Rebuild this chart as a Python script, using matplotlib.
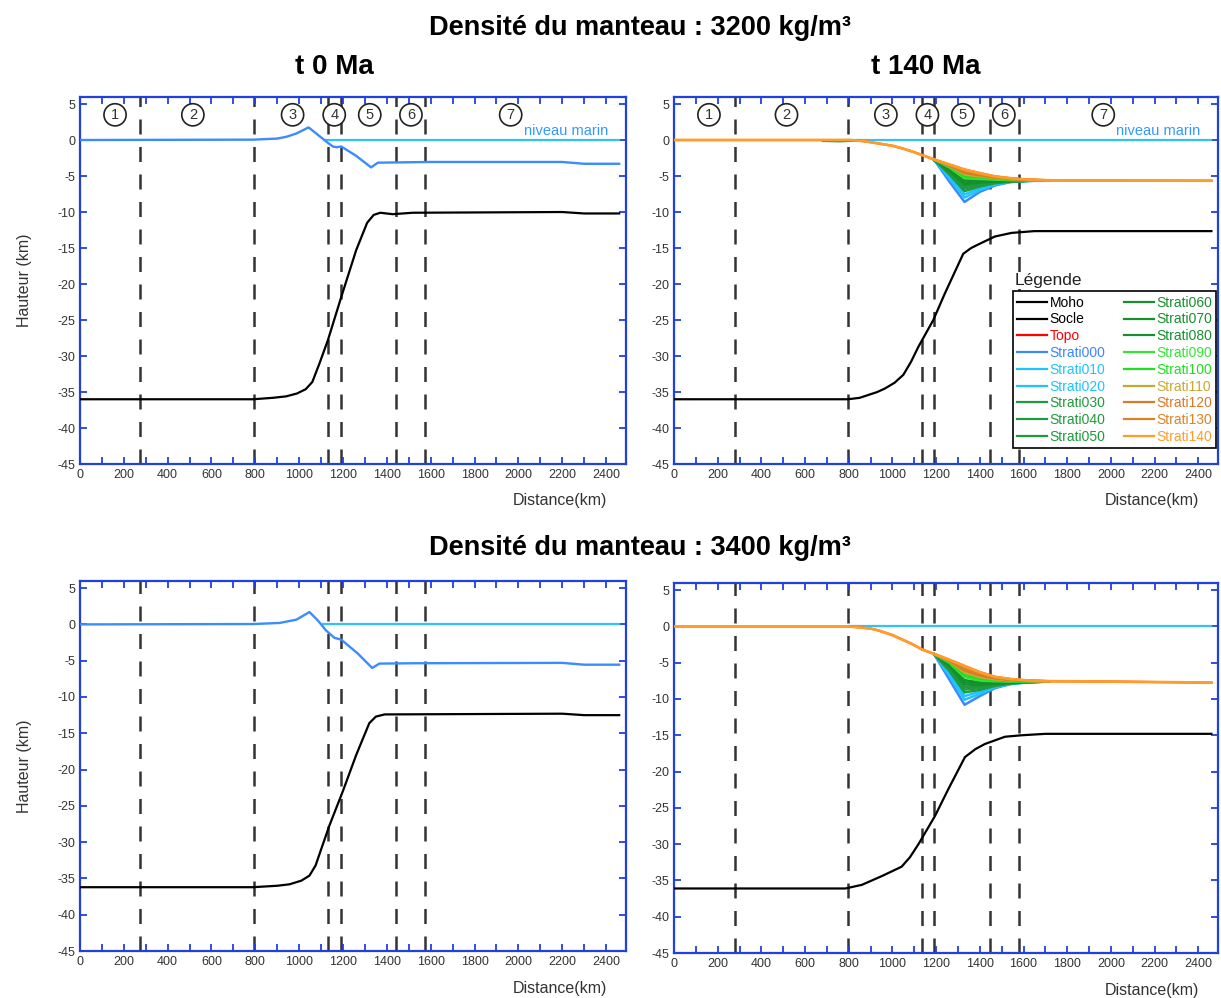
import numpy as np
import matplotlib
matplotlib.use('Agg')
import matplotlib.pyplot as plt
from matplotlib.ticker import MultipleLocator
from matplotlib.lines import Line2D

plt.rcParams['font.family'] = ['Liberation Sans', 'DejaVu Sans']
plt.rcParams['axes.unicode_minus'] = False

# ---- donnees (km, km) ----
# t 0 Ma, densite 3200
topo_tl_x = [0, 790, 900, 942, 987, 1043, 1078, 1123, 1153, 1172, 1192, 1260, 1328, 1359, 1594, 2200, 2300, 2460]
topo_tl_y = [0, 0.05, 0.2, 0.45, 0.9, 1.75, 0.9, -0.2, -0.9, -1.0, -0.9, -2.2, -3.8, -3.15, -3.05, -3.05, -3.3, -3.3]
moho_tl_x = [0, 790, 880, 940, 990, 1030, 1060, 1093, 1131, 1192, 1260, 1310, 1340, 1370, 1427, 1518, 2200, 2300, 2460]
moho_tl_y = [-36, -36, -35.8, -35.6, -35.2, -34.6, -33.6, -31, -27.8, -21.8, -15.3, -11.5, -10.4, -10.1, -10.3, -10.1, -10.0, -10.2, -10.2]

# t 0 Ma, densite 3400
topo_bl_x = [0, 789, 911, 987, 1047, 1085, 1123, 1161, 1192, 1267, 1333, 1366, 1533, 2200, 2300, 2460]
topo_bl_y = [0, 0.05, 0.2, 0.65, 1.7, 0.55, -0.85, -1.85, -2.1, -4.0, -6.0, -5.4, -5.35, -5.3, -5.55, -5.55]
moho_bl_x = [0, 789, 900, 956, 1010, 1047, 1075, 1100, 1138, 1199, 1260, 1320, 1350, 1390, 2200, 2300, 2460]
moho_bl_y = [-36.2, -36.2, -36.0, -35.8, -35.3, -34.6, -33.2, -31.0, -27.7, -23, -18, -13.6, -12.7, -12.4, -12.3, -12.5, -12.5]

# t 140 Ma, densite 3200
topo_tr_x = [0, 800, 850, 900, 1000, 1050, 1100, 1137, 1190, 1260, 1330, 1400, 1470, 1540, 1620, 1720, 1800, 2460]
topo_tr_y = [0, 0, -0.1, -0.3, -0.8, -1.2, -1.7, -2.1, -2.7, -3.4, -4.1, -4.6, -5.05, -5.3, -5.5, -5.6, -5.62, -5.65]
moho_tr_x = [0, 796, 850, 890, 930, 966, 1010, 1050, 1085, 1119, 1187, 1240, 1324, 1360, 1393, 1469, 1545, 1650, 2460]
moho_tr_y = [-36, -36, -35.8, -35.4, -35.0, -34.5, -33.7, -32.6, -30.8, -28.7, -25, -21.3, -15.8, -15.0, -14.5, -13.4, -12.9, -12.65, -12.65]

# t 140 Ma, densite 3400
topo_br_x = [0, 800, 900, 936, 1000, 1088, 1137, 1192, 1260, 1330, 1400, 1470, 1540, 1620, 1720, 2000, 2460]
topo_br_y = [0, 0, -0.3, -0.56, -1.2, -2.4, -3.2, -3.8, -4.6, -5.45, -6.3, -6.95, -7.25, -7.45, -7.55, -7.6, -7.75]
moho_br_x = [0, 784, 860, 951, 1042, 1080, 1119, 1195, 1256, 1332, 1380, 1423, 1515, 1590, 1700, 2460]
moho_br_y = [-36.1, -36.1, -35.6, -34.4, -33.1, -31.8, -30, -26.1, -22.4, -18, -16.9, -16.2, -15.2, -15.0, -14.8, -14.8]

# niveaux stratigraphiques dans le bassin (Strati000 .. Strati130), Strati140 = topo
basin_x = [1190, 1260, 1330, 1400, 1470, 1540, 1620, 1720]
strati_tr = [
    [-2.7, -5.75, -8.6, -7.2, -6.3, -5.85, -5.68, -5.62],
    [-2.7, -5.3, -8.0, -6.95, -6.2, -5.82, -5.68, -5.62],
    [-2.7, -5.0, -7.55, -6.7, -6.1, -5.8, -5.67, -5.62],
    [-2.7, -4.75, -7.1, -6.45, -6.0, -5.78, -5.67, -5.62],
    [-2.7, -4.55, -6.75, -6.25, -5.92, -5.75, -5.66, -5.62],
    [-2.7, -4.4, -6.45, -6.05, -5.85, -5.72, -5.66, -5.62],
    [-2.7, -4.25, -6.15, -5.9, -5.78, -5.7, -5.65, -5.62],
    [-2.7, -4.1, -5.9, -5.75, -5.7, -5.66, -5.64, -5.62],
    [-2.7, -3.95, -5.6, -5.6, -5.6, -5.62, -5.62, -5.62],
    [-2.7, -3.8, -5.3, -5.4, -5.5, -5.57, -5.6, -5.62],
    [-2.7, -3.7, -5.05, -5.2, -5.4, -5.52, -5.58, -5.61],
    [-2.7, -3.62, -4.8, -5.05, -5.3, -5.45, -5.56, -5.61],
    [-2.7, -3.55, -4.55, -4.9, -5.2, -5.4, -5.54, -5.6],
    [-2.7, -3.48, -4.3, -4.75, -5.12, -5.35, -5.52, -5.6],
]
strati_br = [
    [-3.8, -7.3, -10.8, -9.6, -8.5, -7.95, -7.7, -7.6],
    [-3.8, -6.8, -10.1, -9.3, -8.4, -7.92, -7.7, -7.6],
    [-3.8, -6.4, -9.6, -9.0, -8.3, -7.9, -7.68, -7.6],
    [-3.8, -6.1, -9.1, -8.75, -8.2, -7.87, -7.68, -7.6],
    [-3.8, -5.85, -8.7, -8.5, -8.1, -7.84, -7.67, -7.6],
    [-3.8, -5.65, -8.35, -8.3, -8.0, -7.8, -7.66, -7.6],
    [-3.8, -5.45, -8.0, -8.1, -7.9, -7.77, -7.65, -7.6],
    [-3.8, -5.3, -7.7, -7.9, -7.8, -7.72, -7.63, -7.6],
    [-3.8, -5.15, -7.4, -7.7, -7.7, -7.67, -7.6, -7.6],
    [-3.8, -5.0, -7.0, -7.45, -7.55, -7.6, -7.58, -7.58],
    [-3.8, -4.9, -6.7, -7.2, -7.4, -7.52, -7.55, -7.58],
    [-3.8, -4.8, -6.35, -7.0, -7.3, -7.45, -7.52, -7.57],
    [-3.8, -4.72, -6.05, -6.75, -7.15, -7.38, -7.5, -7.56],
    [-3.8, -4.65, -5.75, -6.5, -7.05, -7.3, -7.48, -7.56],
]
shelf_x = [680, 760, 840]
shelf_y = [-0.15, -0.2, -0.1]

strati_names = ['Strati%03d' % (10 * i) for i in range(15)]
strati_colors = ['#3a87ff', '#1fc4ff', '#1fc4ff', '#1e9b3c', '#1e9b3c', '#1e9b3c',
                 '#16902e', '#16902e', '#16902e', '#33e633', '#22dd22', '#c8a830',
                 '#d97a28', '#da842a', '#ff9c2a']

seg_left = [275, 795, 1130, 1190, 1440, 1575]
seg_right = [279, 795, 1137, 1192, 1446, 1580]
zone_x = [160, 515, 970, 1160, 1322, 1510, 1965]
zone_lbl = ['1', '2', '3', '4', '5', '6', '7']

spine_c = '#2040e0'
blue_t0 = '#3a8cff'
sea_c = '#2ec4f5'

fig = plt.figure(figsize=(12.21, 9.98), dpi=100)
ax_tl = fig.add_axes([0.0655, 0.535, 0.447, 0.368])
ax_tr = fig.add_axes([0.552, 0.535, 0.4455, 0.368])
ax_bl = fig.add_axes([0.0655, 0.047, 0.447, 0.371])
ax_br = fig.add_axes([0.552, 0.045, 0.4455, 0.371])


def style(ax, segs, ylabel):
    ax.set_xlim(0, 2490)
    ax.set_ylim(-45, 6)
    ax.xaxis.set_major_locator(MultipleLocator(200))
    ax.xaxis.set_minor_locator(MultipleLocator(100))
    ax.yaxis.set_major_locator(MultipleLocator(5))
    ax.tick_params(which='both', direction='in', top=True, right=True,
                   color=spine_c, length=5, width=1.3, labelsize=9,
                   labelcolor='#333333')
    for s in ax.spines.values():
        s.set_color(spine_c)
        s.set_linewidth(1.6)
    for xv in segs:
        ax.axvline(xv, color='#333333', lw=1.8, dashes=(6, 5), zorder=1)
    ax.text(0.965, -0.1, 'Distance(km)', transform=ax.transAxes,
            ha='right', va='center', fontsize=11.5, color='#333333')
    if ylabel:
        ax.set_ylabel('Hauteur (km)', fontsize=11.5, color='#333333', labelpad=18)


def zones(ax):
    for xv, t in zip(zone_x, zone_lbl):
        ax.text(xv, 3.5, t, ha='center', va='center', fontsize=10.5, color='#333333',
                bbox=dict(boxstyle='circle,pad=0.28', fc='white', ec='#222222', lw=1.2))
    ax.text(2410, 1.25, 'niveau marin', ha='right', va='center', fontsize=10.5, color='#3399ff')


# --- t 0 Ma ---
for ax, tx, ty, mx, my, sea0 in [(ax_tl, topo_tl_x, topo_tl_y, moho_tl_x, moho_tl_y, 1123),
                                 (ax_bl, topo_bl_x, topo_bl_y, moho_bl_x, moho_bl_y, 1108)]:
    style(ax, seg_left, True)
    ax.plot([sea0, 2460], [0, 0], color=sea_c, lw=1.6, zorder=3)
    ax.plot(tx, ty, color=blue_t0, lw=1.7, zorder=4)
    ax.plot(mx, my, color='black', lw=1.6, zorder=4)

# --- t 140 Ma ---
for ax, tx, ty, mx, my, strat in [(ax_tr, topo_tr_x, topo_tr_y, moho_tr_x, moho_tr_y, strati_tr),
                                  (ax_br, topo_br_x, topo_br_y, moho_br_x, moho_br_y, strati_br)]:
    style(ax, seg_right, False)
    ax.plot([800, 2460], [0, 0], color=sea_c, lw=1.6, zorder=3)
    ax.plot(mx, my, color='black', lw=1.6, zorder=4)
    ax.plot(tx, ty, color='red', lw=1.5, zorder=4)
    for row, col in zip(strat, strati_colors[:14]):
        ax.plot(basin_x, row, color=col, lw=1.8, zorder=5)
    ax.plot(tx, ty, color=strati_colors[14], lw=2.0, zorder=6)

ax_tr.plot(shelf_x, shelf_y, color='#1e9b3c', lw=1.4, zorder=5)

zones(ax_tl)
zones(ax_tr)

# legende
leg_names = ['Moho', 'Socle', 'Topo'] + strati_names
leg_colors = ['black', 'black', 'red'] + strati_colors
handles = [Line2D([], [], color=c, lw=1.6) for c in leg_colors]
leg = ax_tr.legend(handles, leg_names, ncol=2, loc='upper right',
                   bbox_to_anchor=(0.997, 0.47), fontsize=10, frameon=True,
                   fancybox=False, edgecolor='black', framealpha=1,
                   handlelength=2.2, handletextpad=0.15, columnspacing=1.3,
                   labelspacing=0.2, borderpad=0.3, borderaxespad=0)
leg.get_frame().set_linewidth(1.2)
leg.set_zorder(10)
for txt, c in zip(leg.get_texts(), leg_colors):
    txt.set_color(c)
ax_tr.text(0.627, 0.5, 'Légende', transform=ax_tr.transAxes, fontsize=12.5,
           color='#222222', ha='left', va='center', zorder=10,
           bbox=dict(fc='white', ec='none', pad=1))

# titres
tfont = ['Liberation Sans', 'DejaVu Sans']
fig.text(0.524, 0.972, 'Densité du manteau : 3200 kg/m³', ha='center', va='center',
         fontsize=19.5, fontweight='bold', family=tfont)
fig.text(0.524, 0.451, 'Densité du manteau : 3400 kg/m³', ha='center', va='center',
         fontsize=19.5, fontweight='bold', family=tfont)
fig.text(0.274, 0.933, 't 0 Ma', ha='center', va='center',
         fontsize=20, fontweight='bold', family=tfont)
fig.text(0.758, 0.933, 't 140 Ma', ha='center', va='center',
         fontsize=20, fontweight='bold', family=tfont)

fig.savefig('out.png', dpi=100)
